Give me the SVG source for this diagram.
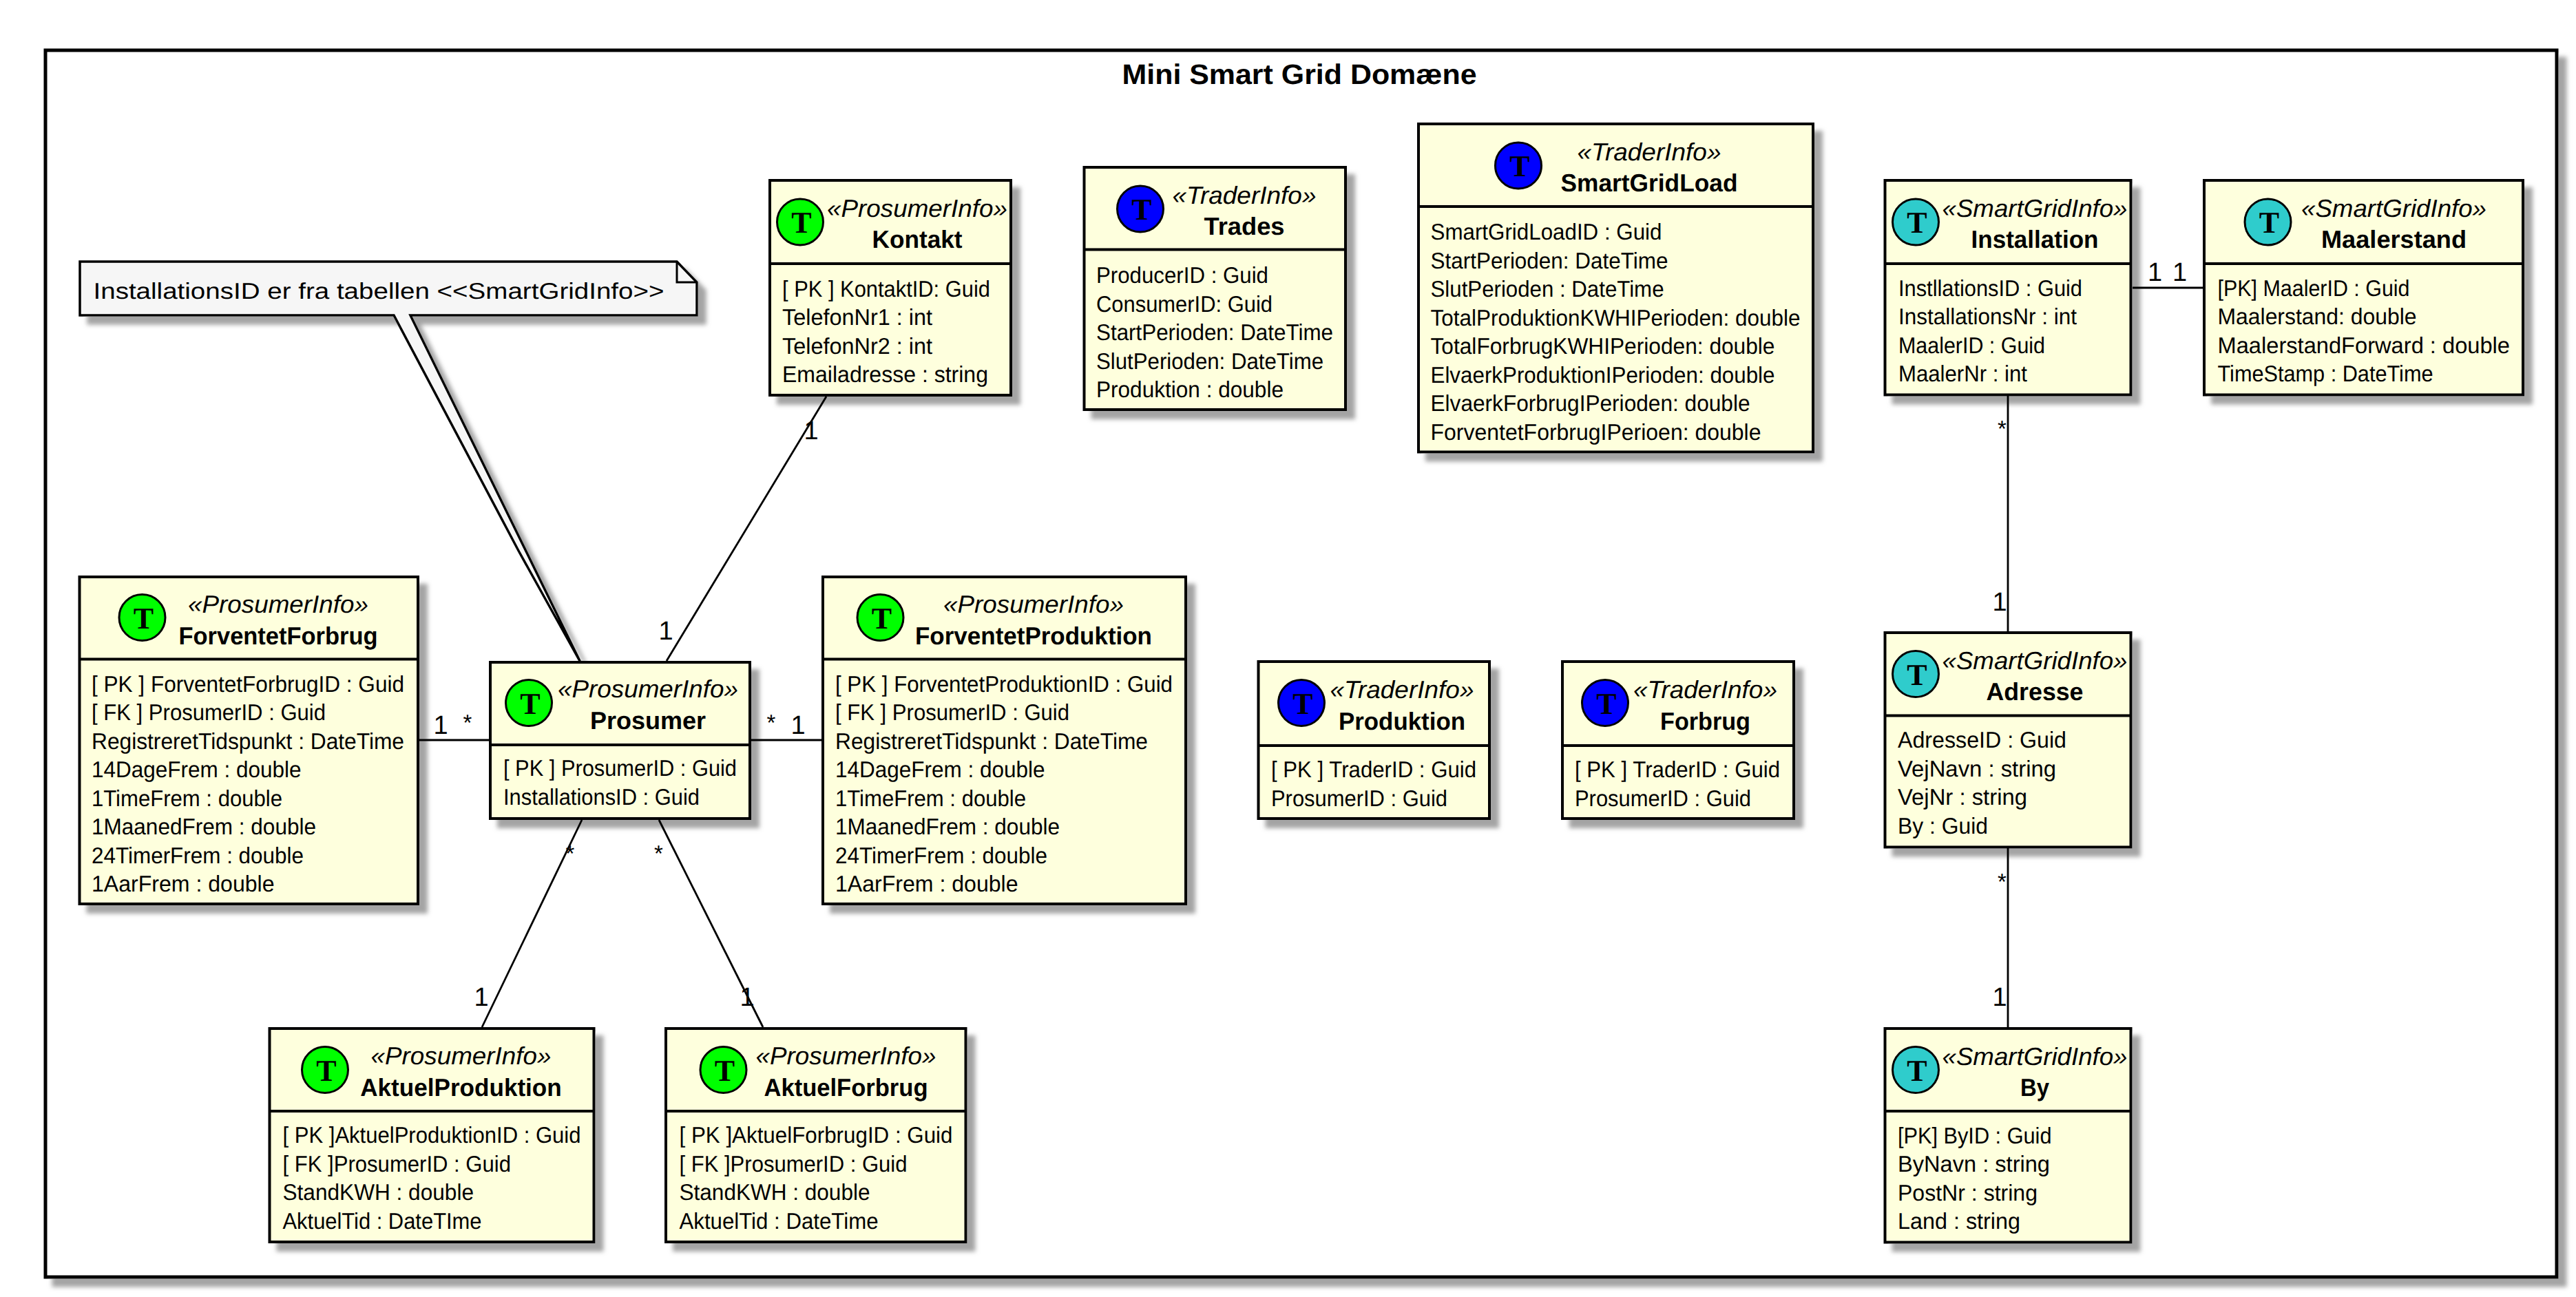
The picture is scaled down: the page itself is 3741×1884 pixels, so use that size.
<svg xmlns="http://www.w3.org/2000/svg" width="3741" height="1884" viewBox="0 0 3741 1884">
<style>
text{font-family:"Liberation Sans",Arial,sans-serif;fill:#000;text-rendering:geometricPrecision}
.box{fill:#FEFFDD;stroke:#000;stroke-width:4;filter:url(#sh)}
.div{stroke:#000;stroke-width:4}
.c{stroke:#000;stroke-width:3}
.g{fill:#00FF00}.b{fill:#0000FF}.e{fill:#2FCCCC}
.t{font-family:"Liberation Serif",serif;font-weight:700;font-size:44px;text-anchor:middle}
.st{font-style:italic;font-size:36px;text-anchor:middle}
.n{font-weight:700;font-size:36px;text-anchor:middle}
.r{font-size:33px}
.l{font-size:38px;text-anchor:middle}
.s{font-size:33px;text-anchor:middle}
.cn{stroke:#000;stroke-width:2.8;fill:none}
</style>
<defs><filter id="sh" x="-8%" y="-8%" width="125%" height="125%"><feDropShadow dx="12" dy="12" stdDeviation="3" flood-color="#a4a4a4"/></filter></defs>
<g id="frame">
<rect x="66" y="73" width="3647" height="1782" fill="#fff" stroke="#000" stroke-width="5" filter="url(#sh)"/>
<text x="1887" y="122" font-weight="700" font-size="41" text-anchor="middle" textLength="515" lengthAdjust="spacingAndGlyphs">Mini Smart Grid Domæne</text>
</g>
<g id="note">
<path d="M116,380H983L1012,410V458H596L843,962L753,800L572,458H116Z" fill="#F6F6F6" stroke="#000" stroke-width="3.5" stroke-linejoin="miter" filter="url(#sh)"/>
<path d="M983,380V410H1012" fill="none" stroke="#000" stroke-width="3"/>
<text class="r" x="135.5" y="434" textLength="829" lengthAdjust="spacingAndGlyphs">InstallationsID er fra tabellen &lt;&lt;SmartGridInfo&gt;&gt;</text>
</g>
<g id="Kontakt">
<rect class="box" x="1118" y="262" width="350" height="312"/><line class="div" x1="1118" y1="383" x2="1468" y2="383"/>
<ellipse class="c g" cx="1162" cy="322.5" rx="33.5" ry="33.5"/><text class="t" x="1164" y="338">T</text>
<text class="st" x="1332" y="315" textLength="262" lengthAdjust="spacingAndGlyphs">«ProsumerInfo»</text>
<text class="n" x="1332" y="360" textLength="131" lengthAdjust="spacingAndGlyphs">Kontakt</text>
<text class="r" x="1136" y="430.5" textLength="302" lengthAdjust="spacingAndGlyphs">[ PK ] KontaktID: Guid</text>
<text class="r" x="1136" y="472" textLength="218" lengthAdjust="spacingAndGlyphs">TelefonNr1 : int</text>
<text class="r" x="1136" y="513.5" textLength="218" lengthAdjust="spacingAndGlyphs">TelefonNr2 : int</text>
<text class="r" x="1136" y="555" textLength="299" lengthAdjust="spacingAndGlyphs">Emailadresse : string</text>
</g>
<g id="Trades">
<rect class="box" x="1574.5" y="243" width="379.5" height="352"/><line class="div" x1="1574.5" y1="362.5" x2="1954" y2="362.5"/>
<ellipse class="c b" cx="1656" cy="303.5" rx="33.5" ry="33.5"/><text class="t" x="1658" y="319">T</text>
<text class="st" x="1807" y="296" textLength="209" lengthAdjust="spacingAndGlyphs">«TraderInfo»</text>
<text class="n" x="1807" y="341" textLength="117" lengthAdjust="spacingAndGlyphs">Trades</text>
<text class="r" x="1592" y="411" textLength="250" lengthAdjust="spacingAndGlyphs">ProducerID : Guid</text>
<text class="r" x="1592" y="452.5" textLength="256" lengthAdjust="spacingAndGlyphs">ConsumerID: Guid</text>
<text class="r" x="1592" y="494" textLength="344" lengthAdjust="spacingAndGlyphs">StartPerioden: DateTime</text>
<text class="r" x="1592" y="535.5" textLength="330" lengthAdjust="spacingAndGlyphs">SlutPerioden: DateTime</text>
<text class="r" x="1592" y="577" textLength="272" lengthAdjust="spacingAndGlyphs">Produktion : double</text>
</g>
<g id="SmartGridLoad">
<rect class="box" x="2060" y="180" width="573" height="476.5"/><line class="div" x1="2060" y1="300" x2="2633" y2="300"/>
<ellipse class="c b" cx="2205" cy="240.5" rx="33.5" ry="33.5"/><text class="t" x="2207" y="256">T</text>
<text class="st" x="2395" y="233" textLength="209" lengthAdjust="spacingAndGlyphs">«TraderInfo»</text>
<text class="n" x="2395" y="278" textLength="257" lengthAdjust="spacingAndGlyphs">SmartGridLoad</text>
<text class="r" x="2077.5" y="348" textLength="336" lengthAdjust="spacingAndGlyphs">SmartGridLoadID : Guid</text>
<text class="r" x="2077.5" y="389.5" textLength="345" lengthAdjust="spacingAndGlyphs">StartPerioden: DateTime</text>
<text class="r" x="2077.5" y="431" textLength="339" lengthAdjust="spacingAndGlyphs">SlutPerioden : DateTime</text>
<text class="r" x="2077.5" y="472.5" textLength="537" lengthAdjust="spacingAndGlyphs">TotalProduktionKWHIPerioden: double</text>
<text class="r" x="2077.5" y="514" textLength="500" lengthAdjust="spacingAndGlyphs">TotalForbrugKWHIPerioden: double</text>
<text class="r" x="2077.5" y="555.5" textLength="500" lengthAdjust="spacingAndGlyphs">ElvaerkProduktionIPerioden: double</text>
<text class="r" x="2077.5" y="597" textLength="464" lengthAdjust="spacingAndGlyphs">ElvaerkForbrugIPerioden: double</text>
<text class="r" x="2077.5" y="638.5" textLength="480" lengthAdjust="spacingAndGlyphs">ForventetForbrugIPerioen: double</text>
</g>
<g id="ForventetForbrug">
<rect class="box" x="115.5" y="838" width="491.5" height="475"/><line class="div" x1="115.5" y1="957.5" x2="607" y2="957.5"/>
<ellipse class="c g" cx="206.5" cy="897" rx="33.5" ry="33.5"/><text class="t" x="208.5" y="912.5">T</text>
<text class="st" x="404" y="890" textLength="262" lengthAdjust="spacingAndGlyphs">«ProsumerInfo»</text>
<text class="n" x="404" y="935.5" textLength="289" lengthAdjust="spacingAndGlyphs">ForventetForbrug</text>
<text class="r" x="133" y="1004.5" textLength="454" lengthAdjust="spacingAndGlyphs">[ PK ] ForventetForbrugID : Guid</text>
<text class="r" x="133" y="1046" textLength="340" lengthAdjust="spacingAndGlyphs">[ FK ] ProsumerID : Guid</text>
<text class="r" x="133" y="1087.5" textLength="454" lengthAdjust="spacingAndGlyphs">RegistreretTidspunkt : DateTime</text>
<text class="r" x="133" y="1129" textLength="304.5" lengthAdjust="spacingAndGlyphs">14DageFrem : double</text>
<text class="r" x="133" y="1170.5" textLength="277" lengthAdjust="spacingAndGlyphs">1TimeFrem : double</text>
<text class="r" x="133" y="1212" textLength="326" lengthAdjust="spacingAndGlyphs">1MaanedFrem : double</text>
<text class="r" x="133" y="1253.5" textLength="308" lengthAdjust="spacingAndGlyphs">24TimerFrem : double</text>
<text class="r" x="133" y="1295" textLength="265.5" lengthAdjust="spacingAndGlyphs">1AarFrem : double</text>
</g>
<g id="ForventetProduktion">
<rect class="box" x="1195" y="838" width="527" height="475"/><line class="div" x1="1195" y1="957.5" x2="1722" y2="957.5"/>
<ellipse class="c g" cx="1278.5" cy="897" rx="33.5" ry="33.5"/><text class="t" x="1280.5" y="912.5">T</text>
<text class="st" x="1501" y="890" textLength="262" lengthAdjust="spacingAndGlyphs">«ProsumerInfo»</text>
<text class="n" x="1501" y="935.5" textLength="344" lengthAdjust="spacingAndGlyphs">ForventetProduktion</text>
<text class="r" x="1213" y="1004.5" textLength="490" lengthAdjust="spacingAndGlyphs">[ PK ] ForventetProduktionID : Guid</text>
<text class="r" x="1213" y="1046" textLength="340" lengthAdjust="spacingAndGlyphs">[ FK ] ProsumerID : Guid</text>
<text class="r" x="1213" y="1087.5" textLength="454" lengthAdjust="spacingAndGlyphs">RegistreretTidspunkt : DateTime</text>
<text class="r" x="1213" y="1129" textLength="304.5" lengthAdjust="spacingAndGlyphs">14DageFrem : double</text>
<text class="r" x="1213" y="1170.5" textLength="277" lengthAdjust="spacingAndGlyphs">1TimeFrem : double</text>
<text class="r" x="1213" y="1212" textLength="326" lengthAdjust="spacingAndGlyphs">1MaanedFrem : double</text>
<text class="r" x="1213" y="1253.5" textLength="308" lengthAdjust="spacingAndGlyphs">24TimerFrem : double</text>
<text class="r" x="1213" y="1295" textLength="265.5" lengthAdjust="spacingAndGlyphs">1AarFrem : double</text>
</g>
<g id="Prosumer">
<rect class="box" x="712" y="962" width="377" height="227"/><line class="div" x1="712" y1="1082" x2="1089" y2="1082"/>
<ellipse class="c g" cx="768" cy="1021" rx="33.5" ry="33.5"/><text class="t" x="770" y="1036.5">T</text>
<text class="st" x="941" y="1013" textLength="262" lengthAdjust="spacingAndGlyphs">«ProsumerInfo»</text>
<text class="n" x="941" y="1059" textLength="168" lengthAdjust="spacingAndGlyphs">Prosumer</text>
<text class="r" x="731" y="1127" textLength="339" lengthAdjust="spacingAndGlyphs">[ PK ] ProsumerID : Guid</text>
<text class="r" x="731" y="1168.5" textLength="285" lengthAdjust="spacingAndGlyphs">InstallationsID : Guid</text>
</g>
<g id="Produktion">
<rect class="box" x="1827.5" y="961" width="335.5" height="228"/><line class="div" x1="1827.5" y1="1083" x2="2163" y2="1083"/>
<ellipse class="c b" cx="1890" cy="1021" rx="33.5" ry="33.5"/><text class="t" x="1892" y="1036.5">T</text>
<text class="st" x="2036" y="1014" textLength="209" lengthAdjust="spacingAndGlyphs">«TraderInfo»</text>
<text class="n" x="2036" y="1060" textLength="184" lengthAdjust="spacingAndGlyphs">Produktion</text>
<text class="r" x="1846" y="1129" textLength="298" lengthAdjust="spacingAndGlyphs">[ PK ] TraderID : Guid</text>
<text class="r" x="1846" y="1170.5" textLength="256" lengthAdjust="spacingAndGlyphs">ProsumerID : Guid</text>
</g>
<g id="Forbrug">
<rect class="box" x="2269" y="961" width="336" height="228"/><line class="div" x1="2269" y1="1083" x2="2605" y2="1083"/>
<ellipse class="c b" cx="2331" cy="1021" rx="33.5" ry="33.5"/><text class="t" x="2333" y="1036.5">T</text>
<text class="st" x="2476.5" y="1014" textLength="209" lengthAdjust="spacingAndGlyphs">«TraderInfo»</text>
<text class="n" x="2476.5" y="1060" textLength="131" lengthAdjust="spacingAndGlyphs">Forbrug</text>
<text class="r" x="2287" y="1129" textLength="298" lengthAdjust="spacingAndGlyphs">[ PK ] TraderID : Guid</text>
<text class="r" x="2287" y="1170.5" textLength="256" lengthAdjust="spacingAndGlyphs">ProsumerID : Guid</text>
</g>
<g id="AktuelProduktion">
<rect class="box" x="391.5" y="1494" width="471" height="310"/><line class="div" x1="391.5" y1="1614" x2="862.5" y2="1614"/>
<ellipse class="c g" cx="472" cy="1554" rx="33.5" ry="33.5"/><text class="t" x="474" y="1569.5">T</text>
<text class="st" x="669.5" y="1546" textLength="262" lengthAdjust="spacingAndGlyphs">«ProsumerInfo»</text>
<text class="n" x="669.5" y="1591.5" textLength="292.5" lengthAdjust="spacingAndGlyphs">AktuelProduktion</text>
<text class="r" x="410.5" y="1660" textLength="433" lengthAdjust="spacingAndGlyphs">[ PK ]AktuelProduktionID : Guid</text>
<text class="r" x="410.5" y="1701.5" textLength="331.5" lengthAdjust="spacingAndGlyphs">[ FK ]ProsumerID : Guid</text>
<text class="r" x="410.5" y="1743" textLength="277.5" lengthAdjust="spacingAndGlyphs">StandKWH : double</text>
<text class="r" x="410.5" y="1784.5" textLength="289" lengthAdjust="spacingAndGlyphs">AktuelTid : DateTIme</text>
</g>
<g id="AktuelForbrug">
<rect class="box" x="967" y="1494" width="435.5" height="310"/><line class="div" x1="967" y1="1614" x2="1402.5" y2="1614"/>
<ellipse class="c g" cx="1050.5" cy="1554" rx="33.5" ry="33.5"/><text class="t" x="1052.5" y="1569.5">T</text>
<text class="st" x="1228.5" y="1546" textLength="262" lengthAdjust="spacingAndGlyphs">«ProsumerInfo»</text>
<text class="n" x="1228.5" y="1591.5" textLength="238" lengthAdjust="spacingAndGlyphs">AktuelForbrug</text>
<text class="r" x="986.5" y="1660" textLength="397" lengthAdjust="spacingAndGlyphs">[ PK ]AktuelForbrugID : Guid</text>
<text class="r" x="986.5" y="1701.5" textLength="331" lengthAdjust="spacingAndGlyphs">[ FK ]ProsumerID : Guid</text>
<text class="r" x="986.5" y="1743" textLength="277" lengthAdjust="spacingAndGlyphs">StandKWH : double</text>
<text class="r" x="986.5" y="1784.5" textLength="289" lengthAdjust="spacingAndGlyphs">AktuelTid : DateTime</text>
</g>
<g id="Installation">
<rect class="box" x="2737.5" y="262" width="357" height="311.5"/><line class="div" x1="2737.5" y1="383" x2="3094.5" y2="383"/>
<ellipse class="c e" cx="2782" cy="322.5" rx="33.5" ry="33.5"/><text class="t" x="2784" y="338">T</text>
<text class="st" x="2955" y="315" textLength="269" lengthAdjust="spacingAndGlyphs">«SmartGridInfo»</text>
<text class="n" x="2955" y="360" textLength="185" lengthAdjust="spacingAndGlyphs">Installation</text>
<text class="r" x="2757" y="429.5" textLength="267" lengthAdjust="spacingAndGlyphs">InstllationsID : Guid</text>
<text class="r" x="2757" y="471" textLength="259" lengthAdjust="spacingAndGlyphs">InstallationsNr : int</text>
<text class="r" x="2757" y="512.5" textLength="213" lengthAdjust="spacingAndGlyphs">MaalerID : Guid</text>
<text class="r" x="2757" y="554" textLength="187" lengthAdjust="spacingAndGlyphs">MaalerNr : int</text>
</g>
<g id="Maalerstand">
<rect class="box" x="3201" y="262" width="463" height="311.5"/><line class="div" x1="3201" y1="383" x2="3664" y2="383"/>
<ellipse class="c e" cx="3293.5" cy="322.5" rx="33.5" ry="33.5"/><text class="t" x="3295.5" y="338">T</text>
<text class="st" x="3476.5" y="315" textLength="269" lengthAdjust="spacingAndGlyphs">«SmartGridInfo»</text>
<text class="n" x="3476.5" y="360" textLength="211" lengthAdjust="spacingAndGlyphs">Maalerstand</text>
<text class="r" x="3220.5" y="429.5" textLength="279" lengthAdjust="spacingAndGlyphs">[PK] MaalerID : Guid</text>
<text class="r" x="3220.5" y="471" textLength="289" lengthAdjust="spacingAndGlyphs">Maalerstand: double</text>
<text class="r" x="3220.5" y="512.5" textLength="424.5" lengthAdjust="spacingAndGlyphs">MaalerstandForward : double</text>
<text class="r" x="3220.5" y="554" textLength="313" lengthAdjust="spacingAndGlyphs">TimeStamp : DateTime</text>
</g>
<g id="Adresse">
<rect class="box" x="2737.5" y="919" width="357" height="311.5"/><line class="div" x1="2737.5" y1="1039.5" x2="3094.5" y2="1039.5"/>
<ellipse class="c e" cx="2782" cy="979" rx="33.5" ry="33.5"/><text class="t" x="2784" y="994.5">T</text>
<text class="st" x="2955" y="972" textLength="269" lengthAdjust="spacingAndGlyphs">«SmartGridInfo»</text>
<text class="n" x="2955" y="1017" textLength="141" lengthAdjust="spacingAndGlyphs">Adresse</text>
<text class="r" x="2756" y="1086" textLength="245" lengthAdjust="spacingAndGlyphs">AdresseID : Guid</text>
<text class="r" x="2756" y="1127.5" textLength="230" lengthAdjust="spacingAndGlyphs">VejNavn : string</text>
<text class="r" x="2756" y="1169" textLength="188" lengthAdjust="spacingAndGlyphs">VejNr : string</text>
<text class="r" x="2756" y="1210.5" textLength="131" lengthAdjust="spacingAndGlyphs">By : Guid</text>
</g>
<g id="By">
<rect class="box" x="2737.5" y="1494" width="357" height="310.5"/><line class="div" x1="2737.5" y1="1614" x2="3094.5" y2="1614"/>
<ellipse class="c e" cx="2782" cy="1554" rx="33.5" ry="33.5"/><text class="t" x="2784" y="1569.5">T</text>
<text class="st" x="2955" y="1547" textLength="269" lengthAdjust="spacingAndGlyphs">«SmartGridInfo»</text>
<text class="n" x="2955" y="1592" textLength="42" lengthAdjust="spacingAndGlyphs">By</text>
<text class="r" x="2756" y="1660.5" textLength="223.5" lengthAdjust="spacingAndGlyphs">[PK] ByID : Guid</text>
<text class="r" x="2756" y="1702" textLength="221" lengthAdjust="spacingAndGlyphs">ByNavn : string</text>
<text class="r" x="2756" y="1743.5" textLength="203" lengthAdjust="spacingAndGlyphs">PostNr : string</text>
<text class="r" x="2756" y="1785" textLength="178" lengthAdjust="spacingAndGlyphs">Land : string</text>
</g>
<g id="connectors">
<line class="cn" x1="1200" y1="576" x2="968" y2="960"/>
<line class="cn" x1="609" y1="1075" x2="710" y2="1075"/>
<line class="cn" x1="1091" y1="1075" x2="1193" y2="1075"/>
<line class="cn" x1="845" y1="1191" x2="700" y2="1492"/>
<line class="cn" x1="957" y1="1191" x2="1108" y2="1492"/>
<line class="cn" x1="3097" y1="418" x2="3199" y2="418"/>
<line class="cn" x1="2916" y1="575" x2="2916" y2="917"/>
<line class="cn" x1="2916" y1="1232" x2="2916" y2="1492"/>
</g>
<g id="labels">
<text class="l" x="1178" y="637.5">1</text>
<text class="l" x="967" y="928.5">1</text>
<text class="l" x="640" y="1066">1</text>
<text class="s" x="679" y="1061">*</text>
<text class="s" x="1120" y="1061">*</text>
<text class="l" x="1159" y="1066">1</text>
<text class="s" x="828" y="1251">*</text>
<text class="s" x="956.5" y="1251">*</text>
<text class="l" x="699" y="1461">1</text>
<text class="l" x="1085" y="1461">1</text>
<text class="l" x="3129.5" y="408">1</text>
<text class="l" x="3165.5" y="408">1</text>
<text class="s" x="2907.5" y="634">*</text>
<text class="l" x="2904" y="887">1</text>
<text class="s" x="2907.5" y="1292">*</text>
<text class="l" x="2904" y="1461">1</text>
</g>
</svg>
